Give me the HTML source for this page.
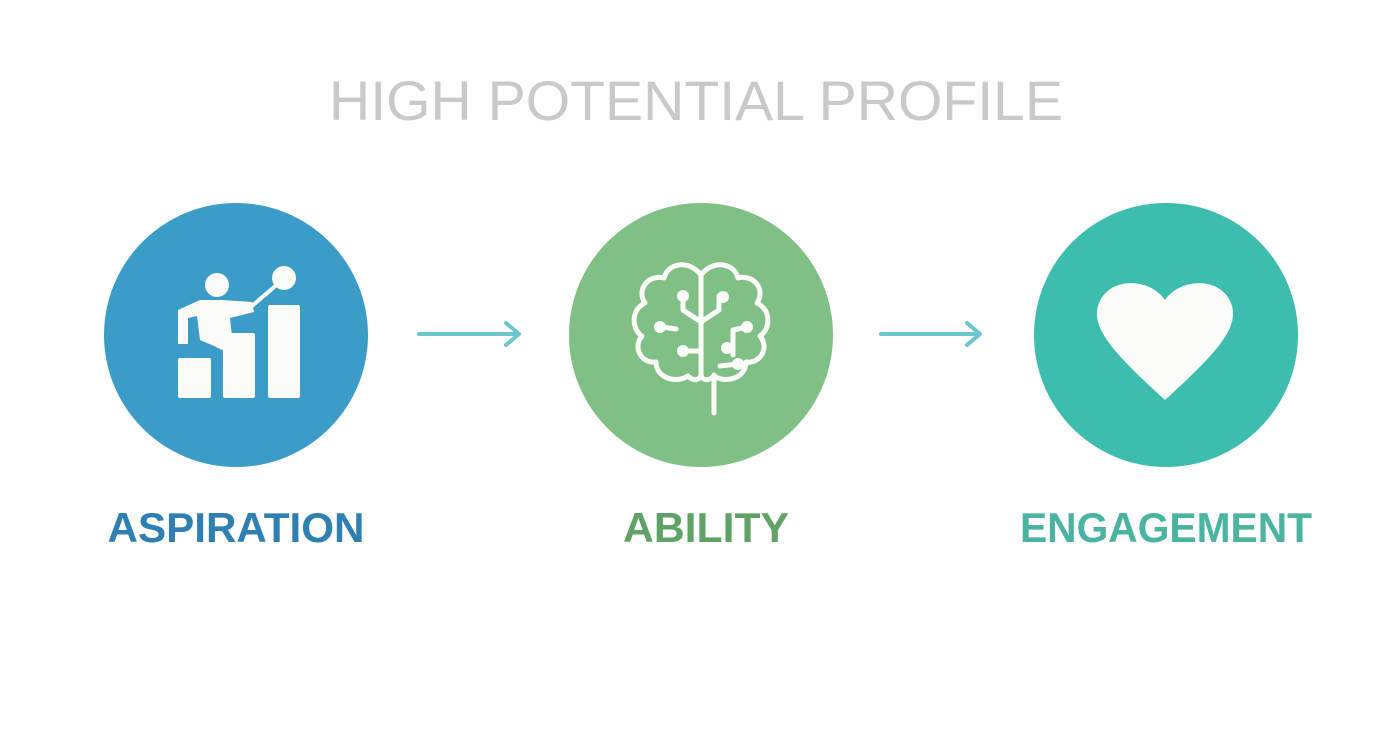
<!DOCTYPE html>
<html><head><meta charset="utf-8"><style>
html,body{margin:0;padding:0;background:#fefefe;}
svg{display:block}
</style></head><body>
<svg width="1392" height="752" viewBox="0 0 1392 752" xmlns="http://www.w3.org/2000/svg">
<rect width="1392" height="752" fill="#fefefe"/>
<text x="696" y="120" text-anchor="middle" font-family="Liberation Sans, sans-serif" font-size="56" fill="#c9c9c9" textLength="734" lengthAdjust="spacingAndGlyphs">HIGH POTENTIAL PROFILE</text>

<circle cx="236" cy="335" r="132" fill="#3b9cc8"/>
<g fill="#fbfbf8">
<rect x="178" y="358" width="33" height="40" rx="2"/>
<rect x="223" y="333" width="32" height="65" rx="2"/>
<rect x="268" y="305" width="32" height="93" rx="2"/>
<circle cx="217" cy="285" r="12"/>
<circle cx="284" cy="278" r="12"/>
<path d="M178 310 L200 300 L222 300 L252 302 L254 312 L230 318 L232 336 L247 342 L250 370 L238 376 L228 376 L226 352 L214 346 L200 340 L197 316 L188 318 L188 344 L178 344 Z"/>
</g>
<line x1="252" y1="306" x2="280" y2="282" stroke="#fbfbf8" stroke-width="4" stroke-linecap="round"/>

<g stroke="#6cc6cc" stroke-width="4" fill="none" stroke-linecap="round" stroke-linejoin="round">
<line x1="419" y1="334" x2="518" y2="334"/>
<polyline points="506,323 519,334 506,345"/>
<line x1="881" y1="334" x2="979" y2="334"/>
<polyline points="967,323 980,334 967,345"/>
</g>

<circle cx="701" cy="335" r="132" fill="#80c087"/>
<g stroke="#fbfbf8" stroke-width="5" fill="none" stroke-linecap="round" stroke-linejoin="round">
<path d="M701 275 C690 260 668 262 664 278 C648 274 636 290 645 303 C630 310 632 330 642 336 C632 348 642 364 656 362 C656 378 676 384 688 376 C694 382 700 380 701 375 Z"/>
<path d="M701 275 C712 260 734 262 738 278 C754 274 766 290 757 303 C772 310 770 330 760 336 C770 348 760 364 746 362 C746 378 726 384 714 376 C708 382 702 380 701 375 Z"/>
<line x1="714" y1="375" x2="714" y2="413"/>
<line x1="701" y1="278" x2="701" y2="375"/>
<polyline points="683,296 683,310 701,322 719,310 719,296"/>
<polyline points="683,351 701,351"/>
<polyline points="733,355 733,330 747,327"/>
<line x1="720" y1="366" x2="738" y2="364"/>
<line x1="662" y1="327" x2="676" y2="329"/>
</g>
<g fill="#fbfbf8">
<circle cx="683" cy="296" r="6"/><circle cx="723" cy="297" r="6"/>
<circle cx="660" cy="327" r="6"/><circle cx="747" cy="327" r="6"/>
<circle cx="683" cy="351" r="6"/><circle cx="727" cy="348" r="6"/>
<circle cx="738" cy="364" r="6"/>
</g>

<circle cx="1166" cy="335" r="132" fill="#3dbdad"/>
<path d="M1165 300 C1150 278 1110 276 1099 303 C1090 326 1110 350 1165 400 C1220 350 1240 326 1231 303 C1220 276 1180 278 1165 300 Z" fill="#fbfbf8"/>

<g font-family="Liberation Sans, sans-serif" font-weight="bold" font-size="42" text-anchor="middle">
<text x="236" y="542" fill="#2f80b2" textLength="257" lengthAdjust="spacingAndGlyphs">ASPIRATION</text>
<text x="706" y="542" fill="#5fa266" textLength="166" lengthAdjust="spacingAndGlyphs">ABILITY</text>
<text x="1166" y="542" fill="#4ab4a0" textLength="292" lengthAdjust="spacingAndGlyphs">ENGAGEMENT</text>
</g>
</svg>
</body></html>
